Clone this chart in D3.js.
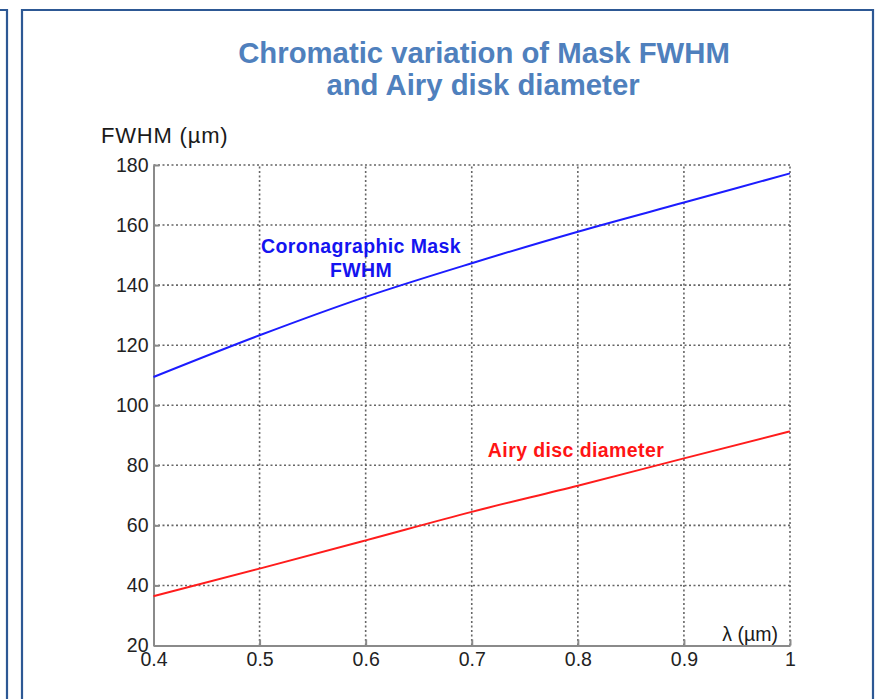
<!DOCTYPE html>
<html>
<head>
<meta charset="utf-8">
<script src="https://cdn.jsdelivr.net/npm/d3@7"></script>
<style>
  html, body { margin: 0; padding: 0; background: #fff; }
  svg { display: block; font-family: "Liberation Sans", Arial, sans-serif; }
</style>
</head>
<body>
<svg id="chart" width="875" height="699"></svg>
<script>
// Wavelength samples (µm)
const wavelength = [0.4, 0.5, 0.6, 0.7, 0.8, 0.9, 1.0];
// Coronagraphic mask FWHM (µm)
const maskFwhm = [109.4, 123.3, 136.1, 147.3, 157.8, 167.5, 177.2];
// Airy disc diameter (µm)
const airyDiameter = [36.4, 45.6, 55.0, 64.5, 73.2, 82.3, 91.3];

const xTicks = [0.4, 0.5, 0.6, 0.7, 0.8, 0.9, 1.0];
const xTickLabels = ["0.4", "0.5", "0.6", "0.7", "0.8", "0.9", "1"];
const yTicks = [20, 40, 60, 80, 100, 120, 140, 160, 180];
const yTickLabels = ["20", "40", "60", "80", "100", "120", "140", "160", "180"];

const svg = d3.select("#chart");

// Slide panel frames
const frameColor = "#2d5894";
svg.append("path")
  .attr("d", "M0,10 H7 V699")
  .attr("fill", "none").attr("stroke", frameColor).attr("stroke-width", 2.2);
svg.append("path")
  .attr("d", "M22,699 V10 H873 V699")
  .attr("fill", "none").attr("stroke", frameColor).attr("stroke-width", 2.2);

// Title
const title = svg.append("text")
  .attr("text-anchor", "middle")
  .attr("fill", "#4f80bd")
  .attr("font-weight", "bold")
  .attr("font-size", 29.3);
title.append("tspan").attr("x", 484).attr("y", 63).text("Chromatic variation of Mask FWHM");
title.append("tspan").attr("x", 483).attr("y", 95).text("and Airy disk diameter");

// Scales
const x = d3.scaleLinear().domain([0.4, 1.0]).range([153.5, 790]);
const y = d3.scaleLinear().domain([20, 180]).range([645.5, 165]);

// Dotted grid (including the top and right frame lines)
const grid = svg.append("g")
  .attr("stroke", "#666")
  .attr("stroke-width", 1.6)
  .attr("stroke-dasharray", "2,2.5");
grid.selectAll("line.gx")
  .data(xTicks.filter(d => d > 0.4))
  .join("line")
  .attr("x1", d => x(d)).attr("x2", d => x(d))
  .attr("y1", y(20)).attr("y2", y(180));
grid.selectAll("line.gy")
  .data(yTicks.filter(d => d > 20))
  .join("line")
  .attr("x1", x(0.4)).attr("x2", x(1.0))
  .attr("y1", d => y(d)).attr("y2", d => y(d));

// Axes
const xAxis = d3.axisBottom(x)
  .tickValues(xTicks)
  .tickFormat((d, i) => xTickLabels[i])
  .tickSize(-6).tickSizeOuter(0).tickPadding(7);
const yAxis = d3.axisLeft(y)
  .tickValues(yTicks)
  .tickFormat((d, i) => yTickLabels[i])
  .tickSize(-6).tickSizeOuter(0).tickPadding(5);

function styleAxis(g) {
  g.select(".domain").attr("stroke", "#8a8a8a").attr("stroke-width", 2);
  g.selectAll(".tick line").attr("stroke", "#8a8a8a").attr("stroke-width", 2);
  g.selectAll(".tick text")
    .attr("fill", "#222")
    .attr("font-size", 19.5)
    .attr("font-family", "\"Liberation Sans\", Arial, sans-serif");
}

svg.append("g")
  .attr("transform", `translate(0,${y(20)})`)
  .call(xAxis)
  .call(styleAxis);
svg.append("g")
  .attr("transform", `translate(${x(0.4)},0)`)
  .call(yAxis)
  .call(styleAxis);

// Axis titles
svg.append("text")
  .attr("x", 101).attr("y", 142.5)
  .attr("font-size", 22)
  .attr("letter-spacing", 0.8)
  .attr("fill", "#1a1a1a")
  .text("FWHM (µm)");
svg.append("text")
  .attr("x", 778).attr("y", 641)
  .attr("text-anchor", "end")
  .attr("font-size", 19.5)
  .attr("fill", "#1a1a1a")
  .text("λ (µm)");

// Curves
const line = d3.line().curve(d3.curveMonotoneX);
svg.append("path")
  .attr("d", line(wavelength.map((w, i) => [x(w), y(maskFwhm[i])])))
  .attr("fill", "none").attr("stroke", "#1c1cff").attr("stroke-width", 2);
svg.append("path")
  .attr("d", line(wavelength.map((w, i) => [x(w), y(airyDiameter[i])])))
  .attr("fill", "none").attr("stroke", "#ff1c1c").attr("stroke-width", 2);

// Curve labels
const maskLabel = svg.append("text")
  .attr("text-anchor", "middle")
  .attr("font-weight", "bold")
  .attr("font-size", 19.5)
  .attr("letter-spacing", 0.4)
  .attr("fill", "#1414f0");
maskLabel.append("tspan").attr("x", 361).attr("y", 252.7).text("Coronagraphic Mask");
maskLabel.append("tspan").attr("x", 361).attr("y", 277.3).text("FWHM");

svg.append("text")
  .attr("x", 576).attr("y", 456.7)
  .attr("text-anchor", "middle")
  .attr("font-weight", "bold")
  .attr("font-size", 19.5)
  .attr("letter-spacing", 0.4)
  .attr("fill", "#ff1414")
  .text("Airy disc diameter");
</script>
</body>
</html>
